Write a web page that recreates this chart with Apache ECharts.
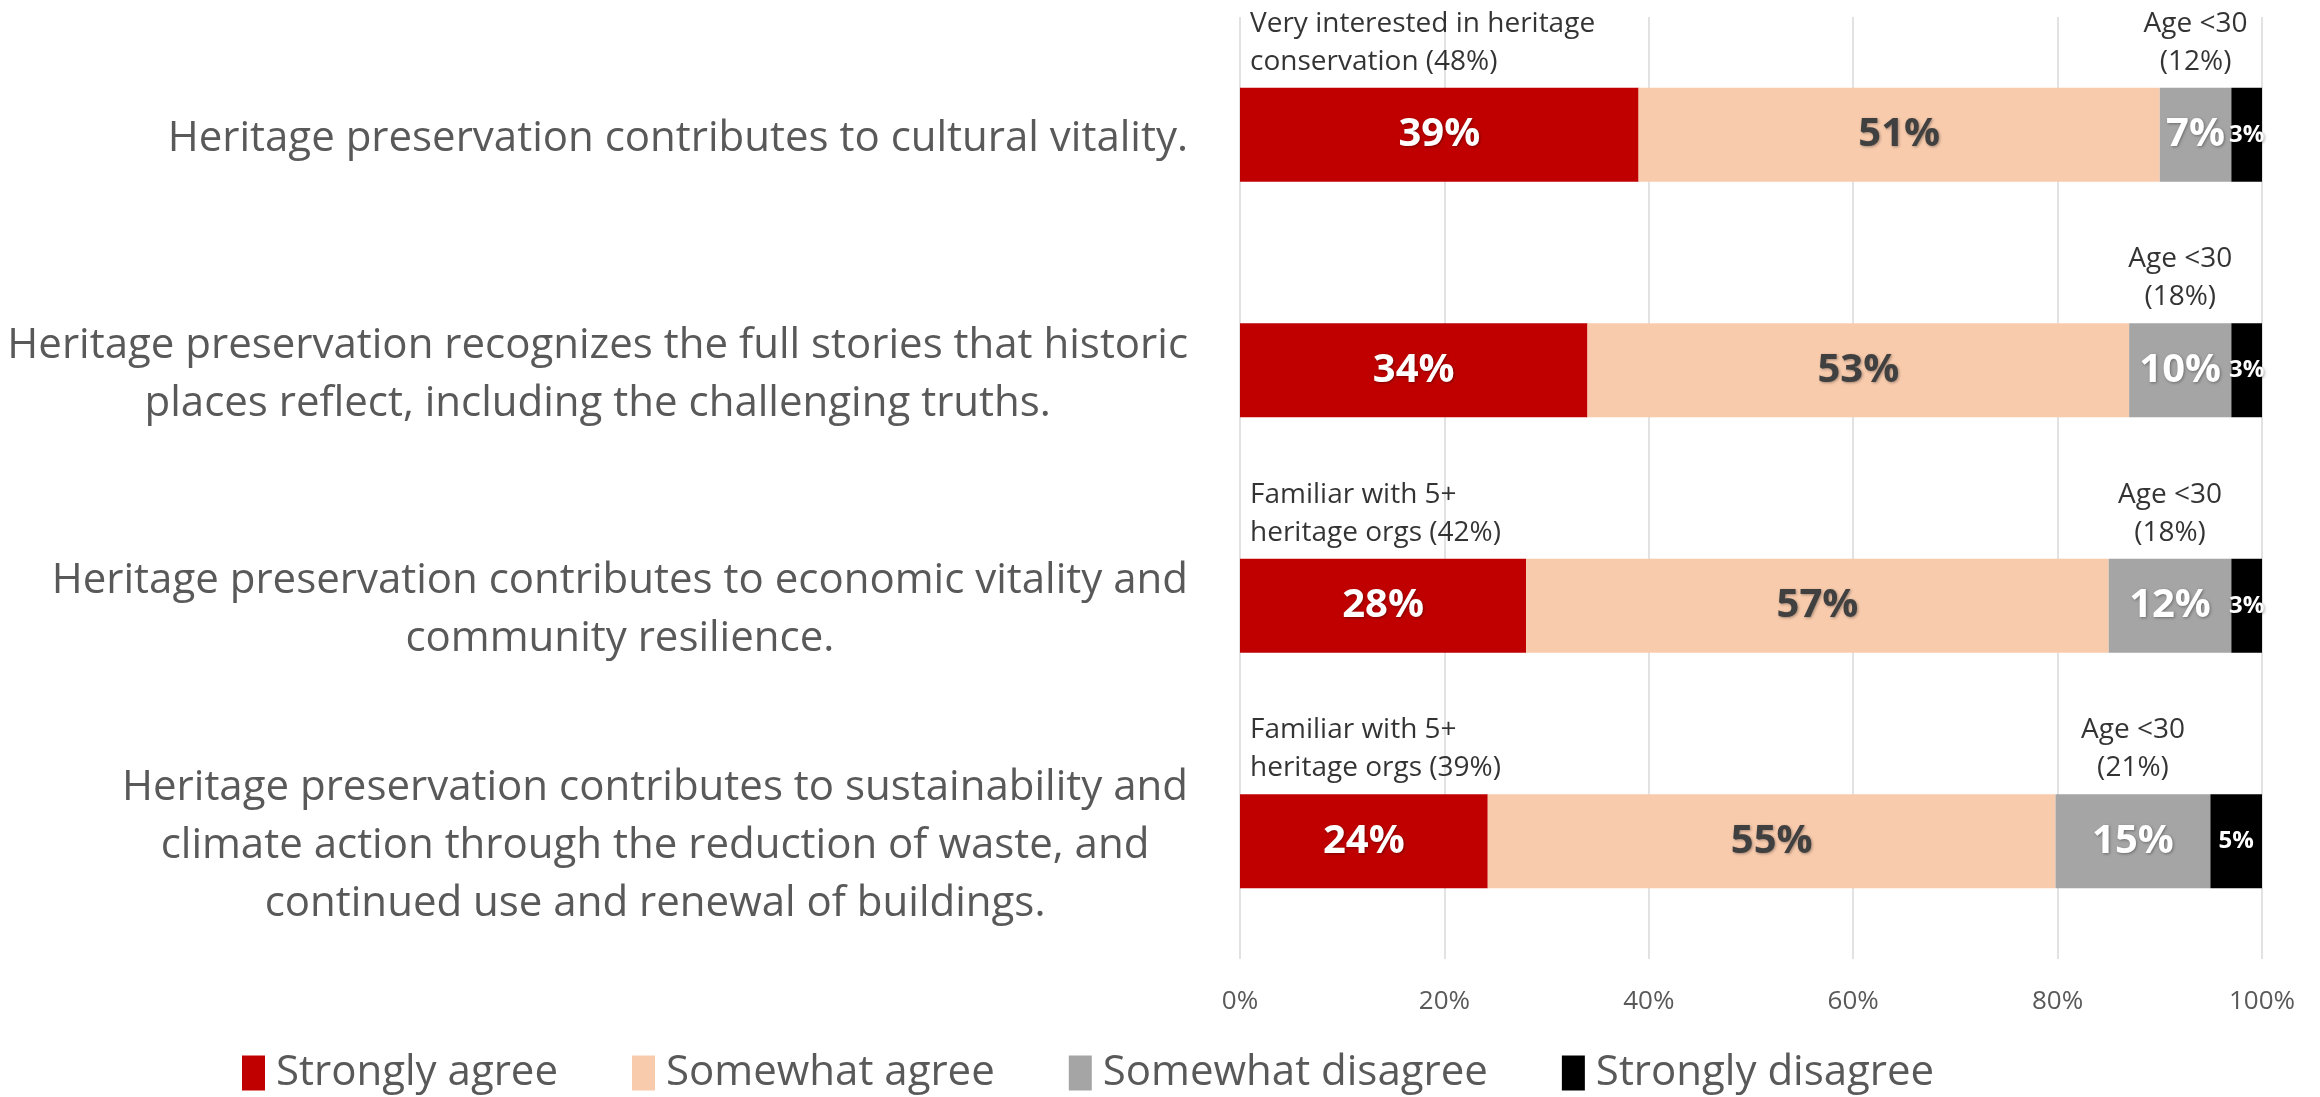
<!DOCTYPE html>
<html>
<head>
<meta charset="utf-8">
<title>Heritage preservation attitudes</title>
<script src="https://cdn.jsdelivr.net/npm/echarts@6/dist/echarts.min.js"></script>
<style>
  html, body { margin: 0; padding: 0; background: #fff; }
  #chart { width: 2320px; height: 1097px; }
</style>
</head>
<body>
<div id="chart"></div>
<script>
// statements, top to bottom
const categories = [
  'Heritage preservation contributes to cultural vitality.',
  'Heritage preservation recognizes the full stories that historic\nplaces reflect, including the challenging truths.',
  'Heritage preservation contributes to economic vitality and\ncommunity resilience.',
  'Heritage preservation contributes to sustainability and\nclimate action through the reduction of waste, and\ncontinued use and renewal of buildings.'
]
const stronglyAgree = [39, 34, 28, 24]
const somewhatAgree = [51, 53, 57, 55]
const somewhatDisagree = [7, 10, 12, 15]
const stronglyDisagree = [3, 3, 3, 5]
// call-outs above the bars
const leftNotes = [
  'Very interested in heritage\nconservation (48%)',
  '',
  'Familiar with 5+\nheritage orgs (42%)',
  'Familiar with 5+\nheritage orgs (39%)'
]
const ageNotes = ['Age <30\n(12%)', 'Age <30\n(18%)', 'Age <30\n(18%)', 'Age <30\n(21%)']

const FONT = "'Open Sans', sans-serif"

// 100% stacked: each row is scaled to its own total
const totals = categories.map((c, i) =>
  stronglyAgree[i] + somewhatAgree[i] + somewhatDisagree[i] + stronglyDisagree[i])
const share = (arr, i) => arr[i] / totals[i] * 100

function barSeries (name, arr, color, textColor, size) {
  return {
    name: name,
    type: 'bar',
    stack: 'all',
    barCategoryGap: '60%',
    itemStyle: { color: color },
    label: {
      show: true,
      position: 'inside',
      formatter: p => arr[p.dataIndex] + '%',
      color: textColor,
      fontFamily: FONT,
      fontWeight: 'bold',
      fontSize: size,
      textShadowColor: 'rgba(0,0,0,0.35)',
      textShadowBlur: 3,
      textShadowOffsetX: 1,
      textShadowOffsetY: 1
    },
    data: categories.map((c, i) => share(arr, i))
  }
}

const chart = echarts.init(document.getElementById('chart'))

chart.setOption({
  animation: false,
  grid: { left: 1240, right: 58, top: 17, bottom: 138 },
  legend: {
    data: ['Strongly agree', 'Somewhat agree', 'Somewhat disagree', 'Strongly disagree'],
    left: 237,
    top: 1047,
    icon: 'rect',
    itemWidth: 23,
    itemHeight: 35,
    itemGap: 74,
    textStyle: { fontFamily: FONT, fontSize: 42, color: '#595959', padding: [0, 0, 0, 6] }
  },
  xAxis: {
    type: 'value',
    min: 0,
    max: 100,
    interval: 20,
    axisLine: { show: false },
    axisTick: { show: false },
    splitLine: { lineStyle: { color: '#D9D9D9', width: 1.5 } },
    axisLabel: {
      formatter: '{value}%',
      margin: 30,
      fontFamily: FONT,
      fontSize: 26,
      color: '#595959'
    }
  },
  yAxis: {
    type: 'category',
    inverse: true,
    data: categories,
    axisLine: { show: false },
    axisTick: { show: false },
    axisLabel: {
      align: 'right',
      margin: 52,
      formatter: v => '{c|' + v + '}',
      rich: {
        c: {
          align: 'center',
          fontFamily: FONT,
          fontSize: 42,
          lineHeight: 58,
          padding: [9, 0, 0, 0],
          color: '#595959'
        }
      }
    }
  },
  series: [
    barSeries('Strongly agree', stronglyAgree, '#C00000', '#FFFFFF', 40),
    barSeries('Somewhat agree', somewhatAgree, '#F8CBAD', '#404040', 40),
    barSeries('Somewhat disagree', somewhatDisagree, '#A5A5A5', '#FFFFFF', 40),
    barSeries('Strongly disagree', stronglyDisagree, '#000000', '#FFFFFF', 24),
    {
      // left call-outs, anchored at 0%
      type: 'scatter',
      symbolSize: 0,
      silent: true,
      z: 5,
      label: {
        show: true,
        position: 'top',
        distance: 54,
        align: 'left',
        offset: [10, 0],
        formatter: p => leftNotes[p.dataIndex],
        fontFamily: FONT,
        fontSize: 28,
        lineHeight: 38,
        color: '#000000'
      },
      data: categories.map((c, i) => [0, c])
    },
    {
      // age call-outs, centred over the "somewhat disagree" segment
      type: 'scatter',
      symbolSize: 0,
      silent: true,
      z: 5,
      label: {
        show: true,
        position: 'top',
        distance: 54,
        align: 'center',
        formatter: p => ageNotes[p.dataIndex],
        fontFamily: FONT,
        fontSize: 28,
        lineHeight: 38,
        color: '#000000'
      },
      data: categories.map((c, i) => [
        share(stronglyAgree, i) + share(somewhatAgree, i) + share(somewhatDisagree, i) / 2, c
      ])
    }
  ]
})
</script>
</body>
</html>
